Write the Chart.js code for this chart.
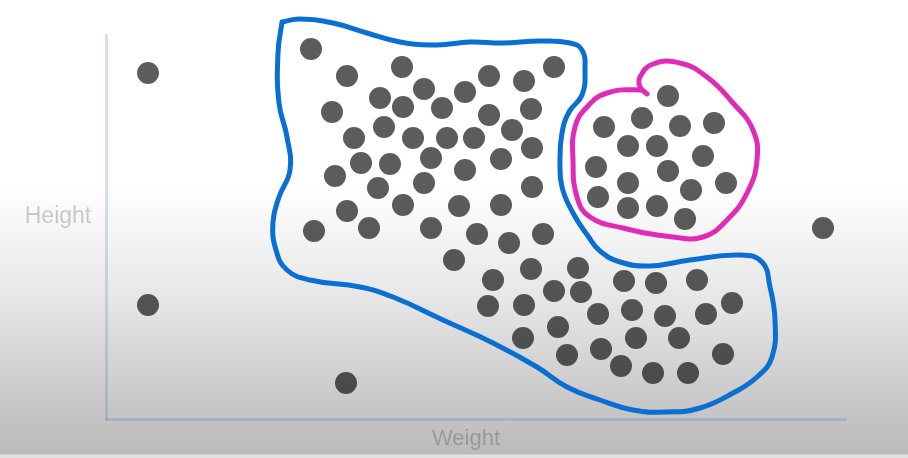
<!DOCTYPE html>
<html>
<head>
<meta charset="utf-8">
<script src="https://cdn.jsdelivr.net/npm/chart.js@4/dist/chart.umd.min.js"></script>
<style>
  html, body { margin: 0; padding: 0; }
  body {
    width: 908px; height: 458px; overflow: hidden;
    background: linear-gradient(to bottom, #ffffff 0px, #ffffff 185px, #e6e6e6 300px, #c9c9c9 400px, #bababa 454px, #e2e2e2 455px, #e2e2e2 458px);
  }
  #wrap { position: absolute; left: 0; top: 0; width: 908px; height: 458px; }
</style>
</head>
<body>
<div id="wrap"><canvas id="c" width="908" height="458"></canvas></div>
<script>
// Axis titles
const xTitle = "Weight";
const yTitle = "Height";

// Observations (weight, height) in plot units
const outlierWeight = [42, 42, 240, 717];
const outlierHeight = [346, 114, 36, 191];

const upperWeight = [205, 241, 296, 383, 418, 448, 318, 359, 274, 297, 336, 226, 383, 425, 278, 248, 307, 341, 368, 406, 426, 255, 284, 325, 395, 359, 229, 272, 318, 426, 241, 297, 353, 395, 208, 263, 325, 371, 403, 437, 348];
const upperHeight = [370, 343, 352, 343, 338, 352, 330, 327, 321, 312, 311, 307, 304, 310, 292, 281, 281, 281, 281, 289, 271, 256, 255, 261, 260, 249, 243, 231, 236, 232, 208, 214, 213, 214, 188, 191, 191, 185, 176, 185, 159];

const lowerWeight = [387, 425, 472, 448, 475, 518, 550, 591, 382, 418, 492, 526, 559, 600, 626, 452, 417, 530, 573, 461, 495, 515, 547, 582, 617];
const lowerHeight = [139, 150, 151, 128, 127, 138, 136, 139, 113, 114, 105, 109, 103, 105, 116, 92, 81, 81, 81, 64, 70, 53, 46, 46, 65];

const clusterWeight = [562, 498, 536, 574, 608, 522, 551, 597, 490, 562, 522, 620, 585, 492, 522, 551, 579];
const clusterHeight = [323, 292, 301, 293, 296, 273, 273, 263, 252, 248, 236, 236, 229, 222, 211, 213, 200];

// Hand-drawn outlines
const blueOutlineX = [176, 194, 227, 261, 294, 331, 364, 397, 434, 464, 476, 479, 476, 463, 456, 454, 456, 467, 482, 494, 514, 544, 584, 634, 656, 664, 669, 666, 651, 627, 594, 561, 527, 494, 461, 431, 387, 337, 287, 254, 204, 181, 170, 167, 173, 184, 181, 173, 172, 176];
const blueOutlineY = [397, 400, 396, 386, 377, 374, 377, 376, 378, 376, 369, 349, 324, 307, 286, 259, 232, 206, 183, 168, 157, 153, 159, 164, 157, 132, 99, 62, 42, 26, 11, 7, 9, 19, 32, 52, 76, 99, 122, 132, 139, 149, 169, 197, 222, 249, 282, 316, 366, 397];

const pinkOutlineX = [540, 534, 534, 547, 574, 601, 627, 647, 651, 641, 621, 597, 567, 517, 484, 471, 467, 469, 481, 501, 534, 541];
const pinkOutlineY = [326, 332, 342, 355, 356, 342, 316, 289, 259, 226, 199, 182, 182, 191, 202, 222, 259, 292, 312, 326, 329, 325];

const weights = [...outlierWeight, ...upperWeight, ...lowerWeight, ...clusterWeight];
const heights = [...outlierHeight, ...upperHeight, ...lowerHeight, ...clusterHeight];

const pts = (xs, ys) => xs.map((x, i) => ({ x: x, y: ys[i] }));

const axisTitles = {
  id: 'axisTitles',
  afterDraw(chart) {
    const ctx = chart.ctx;
    ctx.save();
    ctx.fillStyle = 'rgba(0,0,0,0.2)';
    ctx.textBaseline = 'alphabetic';
    ctx.textAlign = 'center';
    ctx.font = '23px "Liberation Sans", Arial, sans-serif';
    ctx.fillText(yTitle, 58, 222.5);
    ctx.font = '22px "Liberation Sans", Arial, sans-serif';
    ctx.fillText(xTitle, 466, 445);
    ctx.restore();
  }
};

new Chart(document.getElementById('c'), {
  type: 'scatter',
  data: {
    datasets: [
      {
        label: 'outline-pink',
        data: pts(pinkOutlineX, pinkOutlineY),
        showLine: true,
        borderColor: '#e12bb8',
        borderWidth: 5,
        pointRadius: 0,
        tension: 0.45,
        fill: false,
        clip: false,
        borderCapStyle: 'round',
        borderJoinStyle: 'round'
      },
      {
        label: 'outline-blue',
        data: pts(blueOutlineX, blueOutlineY),
        showLine: true,
        borderColor: '#0a6fd2',
        borderWidth: 5,
        pointRadius: 0,
        tension: 0.45,
        fill: false,
        clip: false,
        borderCapStyle: 'round',
        borderJoinStyle: 'round'
      },
      {
        label: 'people',
        data: pts(weights, heights),
        pointRadius: 11,
        pointBackgroundColor: 'rgba(0,0,0,0.64)',
        pointBorderWidth: 0,
        borderColor: 'rgba(0,0,0,0)',
        clip: false
      }
    ]
  },
  options: {
    responsive: false,
    animation: false,
    events: [],
    layout: { padding: { left: 0, top: 35, right: 62, bottom: 0 } },
    plugins: { legend: { display: false }, tooltip: { enabled: false }, title: { display: false } },
    scales: {
      x: {
        type: 'linear', min: 0, max: 740,
        grid: { display: false },
        ticks: { display: false },
        border: { display: true, color: 'rgba(60,120,180,0.22)', width: 3 },
        afterFit(s) { s.height = 39; }
      },
      y: {
        type: 'linear', min: 0, max: 384,
        grid: { display: false },
        ticks: { display: false },
        border: { display: true, color: 'rgba(60,120,180,0.22)', width: 3 },
        afterFit(s) { s.width = 106; }
      }
    }
  },
  plugins: [axisTitles]
});
</script>
</body>
</html>
